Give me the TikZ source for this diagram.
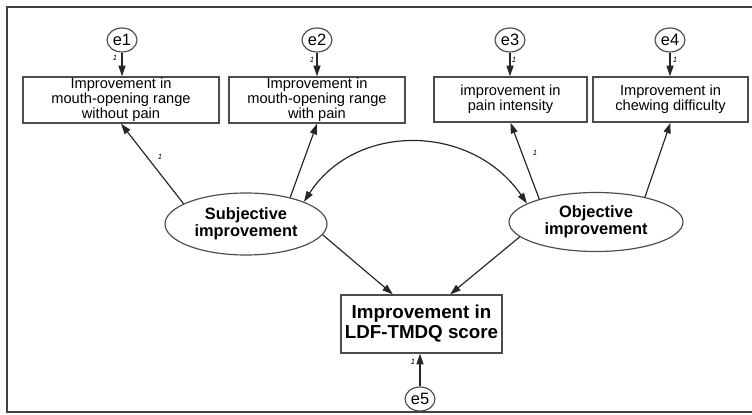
\documentclass[tikz,border=0pt]{standalone}
\usepackage{fontspec}
\setmainfont{Liberation Sans}
\usetikzlibrary{shapes.geometric,arrows.meta}

\begin{document}
\begin{tikzpicture}[
  x=0.03cm, y=-0.03cm,
  >={Triangle[length=0.32cm,width=0.21cm]},
  every node/.style={inner sep=0pt},
  obsbox/.style={draw=black!70, line width=1.1pt, fill=white, align=center, font=\fontsize{12.5}{11}\selectfont},
  latent/.style={ellipse, draw=black!70, line width=1pt, align=center, font=\bfseries\fontsize{14}{14.2}\selectfont},
  errc/.style={ellipse, draw=black!70, line width=1pt, minimum width=30*\scl, minimum height=24*\scl, font=\fontsize{14}{14}\selectfont},
  arr/.style={->, line width=1pt, draw=black!85},
  onelab/.style={font=\fontsize{6.5}{6.5}\selectfont\itshape},
]
\def\scl{0.03cm}
\useasboundingbox (0,0) rectangle (752,414);
\draw[draw=black!75, line width=1.3pt] (752,7) -- (7,7) -- (7,412) -- (752,412);

% indicators
\node[obsbox, minimum width=196*\scl, minimum height=46*\scl] (b1) at (121,100) {Improvement in\\mouth-opening range\\without pain};
\node[obsbox, minimum width=176*\scl, minimum height=46*\scl] (b2) at (317,100) {Improvement in\\mouth-opening range\\with pain};
\node[obsbox, minimum width=153*\scl, minimum height=45*\scl] (b3) at (510.5,99.5) {improvement in\\pain intensity};
\node[obsbox, minimum width=155*\scl, minimum height=45*\scl] (b4) at (670.5,99.5) {Improvement in\\chewing difficulty};
\node[obsbox, minimum width=161*\scl, minimum height=58*\scl, font=\bfseries\fontsize{16}{17}\selectfont] (ldf) at (421.5,324) {Improvement in\\LDF-TMDQ score};

% latent variables
\node[latent, minimum width=162*\scl, minimum height=62*\scl] (subj) at (246,224) {Subjective\\improvement};
\node[latent, minimum width=174*\scl, minimum height=59*\scl] (obj) at (596,222) {Objective\\improvement};

% error terms
\node[errc] (e1) at (122,40) {e1};
\node[errc] (e2) at (317,40) {e2};
\node[errc] (e3) at (510,40) {e3};
\node[errc] (e4) at (670,40) {e4};
\node[errc] (e5) at (420,399) {e5};

\draw[arr] (e1) -- (e1 |- b1.north);
\draw[arr] (e2) -- (e2 |- b2.north);
\draw[arr] (e3) -- (e3 |- b3.north);
\draw[arr] (e4) -- (e4 |- b4.north);
\draw[arr] (e5) -- (e5 |- ldf.south);

\draw[arr] (subj.162) -- (b1.south);
\draw[arr] (subj.31) -- (b2.south);
\draw[arr] (obj.158) -- (b3.south);
\draw[arr] (obj.27) -- (b4.south);
\draw[arr] (subj.-8) -- (ldf.134);
\draw[arr] (obj.191) -- (ldf.46);
\draw[arr, <->] (subj.21) .. controls +(52,-80) and +(-55,-80) .. (obj.165);

% fixed loadings
\node[onelab] (l1) at (115,58) {1};
\node[onelab] (l2) at (312,60) {1};
\node[onelab] (l3) at (514,60) {1};
\node[onelab] (l4) at (675,60) {1};
\node[onelab] (l5) at (413,362) {1};
\node[onelab] (l6) at (160,157) {1};
\node[onelab] (l7) at (535,153) {1};
\end{tikzpicture}
\end{document}
